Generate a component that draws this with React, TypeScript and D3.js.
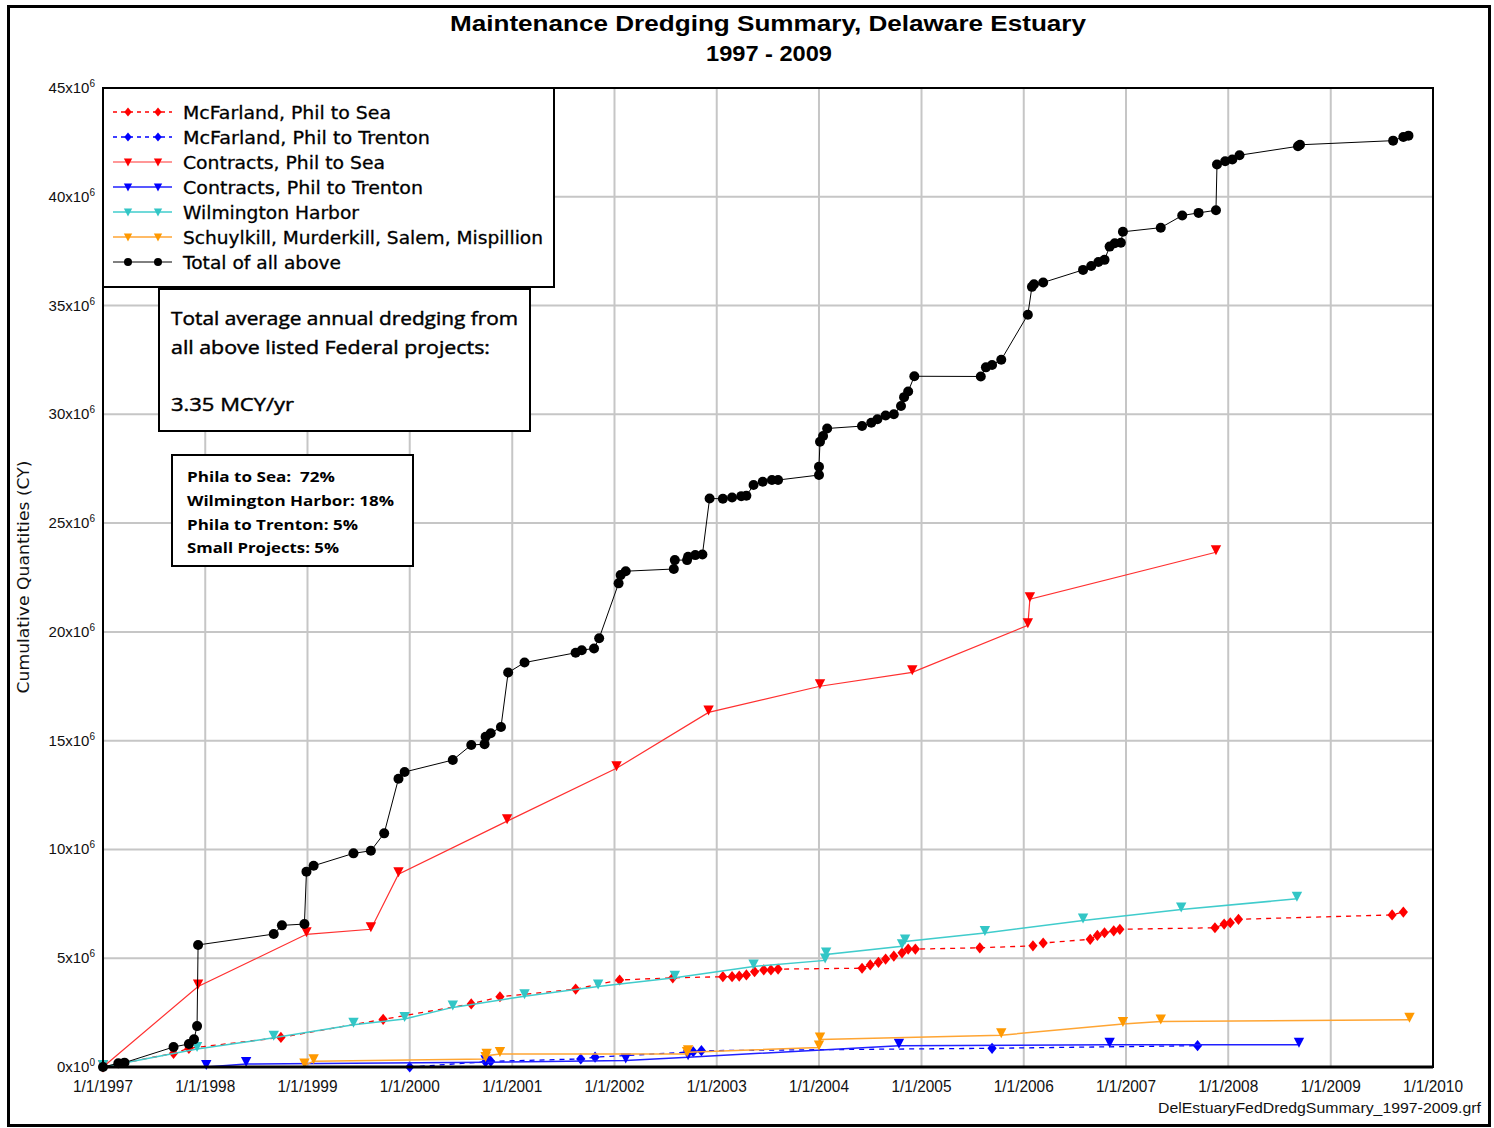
import React from "react";
import * as d3 from "d3";

// ---------- DATA (decimal years, values in millions of CY) ----------
const mcfSeaDates = [1997.0, 1997.69, 1997.84, 1998.74, 1999.74, 2000.6, 2000.88, 2001.62, 2002.05, 2002.57, 2003.06, 2003.15, 2003.22, 2003.29, 2003.37, 2003.46, 2003.53, 2003.6, 2004.42, 2004.5, 2004.58, 2004.65, 2004.73, 2004.81, 2004.87, 2004.94, 2005.57, 2006.09, 2006.19, 2006.65, 2006.72, 2006.79, 2006.88, 2006.94, 2007.87, 2007.96, 2008.02, 2008.1, 2009.6, 2009.71];
const mcfSeaValues = [0, 0.63, 0.86, 1.36, 2.19, 2.9, 3.23, 3.58, 4.0, 4.1, 4.15, 4.15, 4.18, 4.23, 4.38, 4.46, 4.46, 4.5, 4.54, 4.69, 4.81, 4.96, 5.1, 5.25, 5.42, 5.42, 5.48, 5.57, 5.7, 5.87, 6.05, 6.17, 6.26, 6.33, 6.4, 6.57, 6.63, 6.79, 6.99, 7.12];

const mcfTrentonDates = [2000.0, 2000.74, 2000.79, 2001.67, 2001.81, 2002.77, 2002.85, 2005.69, 2007.7];
const mcfTrentonValues = [0, 0.24, 0.26, 0.37, 0.45, 0.7, 0.75, 0.86, 0.98];

const contractsSeaDates = [1997.0, 1997.93, 1998.99, 1999.62, 1999.89, 2000.95, 2002.02, 2002.92, 2004.01, 2004.91, 2006.04, 2006.06, 2007.88];
const contractsSeaValues = [0, 3.7, 6.1, 6.33, 8.86, 11.3, 13.73, 16.3, 17.5, 18.14, 20.3, 21.5, 23.66];

const contractsTrentonDates = [1998.01, 1998.4, 2000.74, 2002.11, 2002.72, 2004.78, 2006.84, 2008.69];
const contractsTrentonValues = [0.0, 0.14, 0.22, 0.3, 0.45, 0.98, 1.02, 1.02];

const wilmingtonDates = [1997.0, 1997.92, 1998.67, 1999.45, 1999.95, 2000.42, 2001.12, 2001.84, 2002.59, 2003.36, 2004.06, 2004.07, 2004.81, 2004.84, 2005.62, 2006.58, 2007.54, 2008.67];
const wilmingtonValues = [0, 0.83, 1.34, 1.94, 2.21, 2.74, 3.25, 3.7, 4.1, 4.62, 4.9, 5.17, 5.55, 5.77, 6.16, 6.73, 7.24, 7.73];

const smallProjDates = [1998.97, 1999.06, 2000.74, 2000.75, 2000.88, 2002.71, 2002.72, 2004.0, 2004.01, 2005.78, 2006.97, 2007.34, 2009.77];
const smallProjValues = [0.07, 0.27, 0.37, 0.52, 0.6, 0.6, 0.68, 0.9, 1.26, 1.46, 1.98, 2.09, 2.17];

const totalDates = [1997.0, 1997.15, 1997.21, 1997.69, 1997.84, 1997.89, 1997.92, 1997.93, 1998.67, 1998.75, 1998.97, 1998.99, 1999.06, 1999.45, 1999.62, 1999.75, 1999.89, 1999.95, 2000.42, 2000.6, 2000.73, 2000.74, 2000.79, 2000.89, 2000.96, 2001.12, 2001.62, 2001.68, 2001.8, 2001.85, 2002.04, 2002.06, 2002.11, 2002.58, 2002.59, 2002.71, 2002.72, 2002.79, 2002.86, 2002.93, 2003.06, 2003.15, 2003.24, 2003.29, 2003.36, 2003.45, 2003.54, 2003.6, 2004.0, 2004.0, 2004.01, 2004.04, 2004.08, 2004.42, 2004.51, 2004.57, 2004.65, 2004.73, 2004.8, 2004.83, 2004.87, 2004.93, 2005.58, 2005.63, 2005.69, 2005.78, 2006.04, 2006.08, 2006.1, 2006.19, 2006.58, 2006.66, 2006.73, 2006.79, 2006.84, 2006.89, 2006.95, 2006.97, 2007.34, 2007.55, 2007.71, 2007.88, 2007.89, 2007.97, 2008.04, 2008.11, 2008.68, 2008.7, 2009.61, 2009.71, 2009.76];
const totalValues = [0, 0.17, 0.2, 0.92, 1.06, 1.27, 1.88, 5.61, 6.11, 6.51, 6.57, 8.98, 9.25, 9.82, 9.94, 10.74, 13.25, 13.56, 14.11, 14.8, 14.84, 15.18, 15.34, 15.63, 18.13, 18.59, 19.04, 19.16, 19.24, 19.71, 22.23, 22.61, 22.79, 22.89, 23.3, 23.3, 23.45, 23.53, 23.56, 26.13, 26.12, 26.18, 26.24, 26.26, 26.75, 26.9, 26.98, 26.98, 27.21, 27.59, 28.74, 29.0, 29.35, 29.46, 29.61, 29.77, 29.95, 30.0, 30.38, 30.79, 31.05, 31.75, 31.74, 32.16, 32.27, 32.51, 34.58, 35.86, 35.98, 36.06, 36.64, 36.82, 37.0, 37.1, 37.71, 37.86, 37.89, 38.39, 38.58, 39.14, 39.26, 39.38, 41.48, 41.63, 41.71, 41.91, 42.32, 42.39, 42.58, 42.75, 42.81];

const seriesNames = [
  "McFarland, Phil to Sea",
  "McFarland, Phil to Trenton",
  "Contracts, Phil to Sea",
  "Contracts, Phil to Trenton",
  "Wilmington Harbor",
  "Schuylkill, Murderkill, Salem, Mispillion",
  "Total of all above",
];

const xTickYears = [1997, 1998, 1999, 2000, 2001, 2002, 2003, 2004, 2005, 2006, 2007, 2008, 2009, 2010];
const xTickLabels = xTickYears.map((y) => `1/1/${y}`);
const yTickMillions = [0, 5, 10, 15, 20, 25, 30, 35, 40, 45];

const titleLine1 = "Maintenance Dredging Summary, Delaware Estuary";
const titleLine2 = "1997 - 2009";
const yAxisTitle = "Cumulative Quantities (CY)";
const fileName = "DelEstuaryFedDredgSummary_1997-2009.grf";
const box1Lines = ["Total average annual dredging from", "all above listed Federal projects:", "", "3.35 MCY/yr"];
const box2Lines = ["Phila to Sea:  72%", "Wilmington Harbor: 18%", "Phila to Trenton: 5%", "Small Projects: 5%"];

// ---------- helpers ----------
const toDate = (y: number) => {
  const yr = Math.floor(y);
  const s = new Date(yr, 0, 1).getTime();
  const e = new Date(yr + 1, 0, 1).getTime();
  return new Date(s + (y - yr) * (e - s));
};

type Marker = "diamond" | "tri" | "circle";
type Series = { name: string; dates: number[]; values: number[]; color: string; lineColor: string; width: number; dash?: string; marker: Marker };

const series: Series[] = [
  { name: seriesNames[0], dates: mcfSeaDates, values: mcfSeaValues, color: "#ff0000", lineColor: "#ff0000", width: 1.3, dash: "5,5", marker: "diamond" },
  { name: seriesNames[1], dates: mcfTrentonDates, values: mcfTrentonValues, color: "#0000ff", lineColor: "#0000ff", width: 1.3, dash: "5,5", marker: "diamond" },
  { name: seriesNames[2], dates: contractsSeaDates, values: contractsSeaValues, color: "#ff0000", lineColor: "#ff3030", width: 1.2, marker: "tri" },
  { name: seriesNames[3], dates: contractsTrentonDates, values: contractsTrentonValues, color: "#0000ff", lineColor: "#2020ff", width: 1.5, marker: "tri" },
  { name: seriesNames[4], dates: wilmingtonDates, values: wilmingtonValues, color: "#33c6c6", lineColor: "#40cccc", width: 1.5, marker: "tri" },
  { name: seriesNames[5], dates: smallProjDates, values: smallProjValues, color: "#ff9900", lineColor: "#ffa533", width: 1.5, marker: "tri" },
  { name: seriesNames[6], dates: totalDates, values: totalValues, color: "#000000", lineColor: "#000000", width: 1, marker: "circle" },
];

const legendWidths = [208, 247, 202, 240, 176, 360, 158];

function MarkerShape({ type, cx, cy, color, small }: { type: Marker; cx: number; cy: number; color: string; small?: boolean }) {
  const k = small ? 0.8 : 1;
  if (type === "circle") return <circle cx={cx} cy={cy} r={5 * k} fill={color} />;
  if (type === "diamond") {
    const w = 4.6 * k, h = 5.6 * k;
    return <path d={`M${cx},${cy - h}L${cx + w},${cy}L${cx},${cy + h}L${cx - w},${cy}Z`} fill={color} />;
  }
  const w = 5.2 * k;
  return <path d={`M${cx - w},${cy - 7 * k}L${cx + w},${cy - 7 * k}L${cx},${cy + 3 * k}Z`} fill={color} />;
}

export default function App() {
  const W = 1494, H = 1128;
  const left = 103, right = 1433, top = 88, bottom = 1067;
  const x = d3.scaleTime().domain([new Date(1997, 0, 1), new Date(2010, 0, 1)]).range([left, right]);
  const y = d3.scaleLinear().domain([0, 45e6]).range([bottom, top]);

  const line = d3
    .line<[number, number]>()
    .x((d) => x(toDate(d[0])))
    .y((d) => y(d[1] * 1e6));

  const legendX = 103, legendY = 88, legendW = 451, legendH = 199;

  return (
    <div style={{ position: "absolute", left: 0, top: 0 }}>
      <svg width={W} height={H} style={{ display: "block", background: "#fff" }}>
        <rect x={0} y={0} width={W} height={H} fill="#fff" />
        {/* outer frame */}
        <rect x={8.5} y={6.5} width={1481} height={1119} fill="none" stroke="#000" strokeWidth={3} />

        {/* title */}
        <text x={768} y={31} textAnchor="middle" fontFamily="Liberation Sans, Arial, sans-serif" fontWeight="bold" fontSize={22} textLength={636} lengthAdjust="spacingAndGlyphs">{titleLine1}</text>
        <text x={769} y={61} textAnchor="middle" fontFamily="Liberation Sans, Arial, sans-serif" fontWeight="bold" fontSize={22} textLength={126} lengthAdjust="spacingAndGlyphs">{titleLine2}</text>

        {/* grid */}
        {xTickYears.slice(1, -1).map((yr) => (
          <line key={"vx" + yr} x1={x(new Date(yr, 0, 1))} x2={x(new Date(yr, 0, 1))} y1={top} y2={bottom} stroke="#c6c6c6" strokeWidth={2} />
        ))}
        {yTickMillions.slice(1, -1).map((v) => (
          <line key={"hy" + v} x1={left} x2={right} y1={y(v * 1e6)} y2={y(v * 1e6)} stroke="#c6c6c6" strokeWidth={2} />
        ))}

        {/* series */}
        {series.map((s, i) => {
          const pts = s.dates.map((d, j) => [d, s.values[j]] as [number, number]);
          return (
            <g key={"s" + i}>
              <path d={line(pts) || ""} fill="none" stroke={s.lineColor} strokeWidth={s.width} strokeDasharray={s.dash} />
              {pts.map((p, j) => (
                <MarkerShape key={j} type={s.marker} cx={x(toDate(p[0]))} cy={y(p[1] * 1e6)} color={s.color} />
              ))}
            </g>
          );
        })}

        {/* plot frame */}
        <rect x={left} y={top} width={right - left} height={bottom - top} fill="none" stroke="#000" strokeWidth={2} />
        <line x1={left} x2={right} y1={bottom} y2={bottom} stroke="#000" strokeWidth={3} />

        {/* y tick labels */}
        {yTickMillions.map((v) => (
          <text key={"yl" + v} x={95} y={y(v * 1e6) + 5} textAnchor="end" fontFamily="Liberation Sans Narrow, Liberation Sans, Arial, sans-serif" fontSize={15} fill="#111">
            {`${v}x10`}
            <tspan dy={-6} fontSize={10}>{v === 0 ? "0" : "6"}</tspan>
          </text>
        ))}

        {/* x tick labels */}
        {xTickYears.map((yr, i) => (
          <text key={"xl" + yr} x={x(new Date(yr, 0, 1))} y={1092} textAnchor="middle" fontFamily="Liberation Sans Narrow, Liberation Sans, Arial, sans-serif" fontSize={16} fill="#111" textLength={60} lengthAdjust="spacingAndGlyphs">
            {xTickLabels[i]}
          </text>
        ))}

        {/* y axis title */}
        <text transform="translate(29,577) rotate(-90)" textAnchor="middle" fontFamily="DejaVu Sans, Verdana, sans-serif" fontSize={15} fill="#111" textLength={233} lengthAdjust="spacingAndGlyphs">{yAxisTitle}</text>

        {/* file name */}
        <text x={1481} y={1113} textAnchor="end" fontFamily="Liberation Sans Narrow, Liberation Sans, Arial, sans-serif" fontSize={15} fill="#111" textLength={323} lengthAdjust="spacingAndGlyphs">{fileName}</text>

        {/* legend */}
        <rect x={legendX} y={legendY} width={legendW} height={legendH} fill="#fff" stroke="#000" strokeWidth={2} />
        {series.map((s, i) => {
          const cy = 112 + i * 25;
          return (
            <g key={"lg" + i}>
              <line x1={113} x2={172} y1={cy} y2={cy} stroke={s.lineColor} strokeWidth={s.width} strokeDasharray={s.dash ? "4,4" : undefined} />
              <MarkerShape type={s.marker} cx={128} cy={s.marker === "tri" ? cy + 2 : cy} color={s.color} small />
              <MarkerShape type={s.marker} cx={158} cy={s.marker === "tri" ? cy + 2 : cy} color={s.color} small />
              <text x={183} y={cy + 6.5} fontFamily="DejaVu Sans, Verdana, sans-serif" fontSize={18} fill="#000" stroke="#000" strokeWidth={0.3} textLength={legendWidths[i]} lengthAdjust="spacingAndGlyphs">{s.name}</text>
            </g>
          );
        })}

        {/* text box 1 */}
        <rect x={159} y={289} width={371} height={142} fill="#fff" stroke="#000" strokeWidth={2} />
        {[{ t: box1Lines[0], y: 325, w: 347 }, { t: box1Lines[1], y: 354, w: 319 }, { t: box1Lines[3], y: 411, w: 123 }].map((l, i) => (
          <text key={"b1" + i} x={171} y={l.y} fontFamily="Open Sans, Lato, sans-serif" fontSize={19} fill="#000" stroke="#000" strokeWidth={0.45} textLength={l.w} lengthAdjust="spacingAndGlyphs">{l.t}</text>
        ))}

        {/* text box 2 */}
        <rect x={172} y={455} width={241} height={111} fill="#fff" stroke="#000" strokeWidth={2} />
        {box2Lines.map((t, i) => (
          <text key={"b2" + i} x={187} y={482 + i * 23.8} xmlSpace="preserve" style={{ whiteSpace: "pre" }} fontFamily="Open Sans, Lato, sans-serif" fontWeight="bold" fontSize={15} fill="#000" textLength={[148, 207, 171, 152][i]} lengthAdjust="spacingAndGlyphs">{t}</text>
        ))}
      </svg>
    </div>
  );
}
